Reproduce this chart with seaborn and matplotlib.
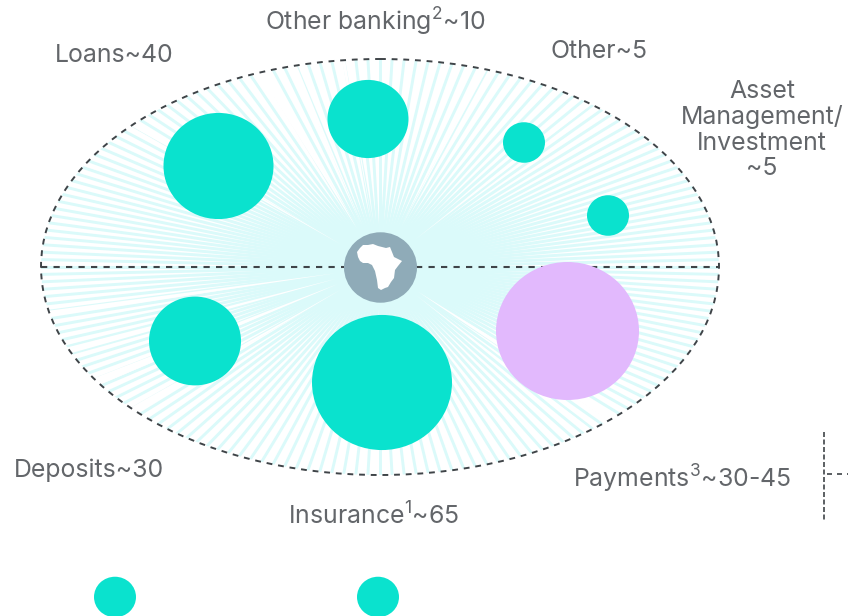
import numpy as np
import pandas as pd
import matplotlib
matplotlib.use("Agg")
import matplotlib.pyplot as plt
import seaborn as sns
from matplotlib.collections import LineCollection
from matplotlib.patches import Ellipse
from matplotlib.path import Path
from matplotlib.transforms import Affine2D

# bubbles (pixel positions, widths in px)
names = ["Loans", "Other banking", "Other", "Asset mgmt", "Payments", "Insurance", "Deposits", "Key A", "Key B"]
bubble_x = [218.5, 368, 524, 608, 567.5, 382, 195, 115, 378]
bubble_y = [166, 119, 142.5, 215.5, 331, 382.5, 341, 597, 597]
bubble_d = [110, 81, 42, 42, 143, 140, 92, 42, 42]
bubble_group = ["teal", "teal", "teal", "teal", "purple", "teal", "teal", "teal", "teal"]

labels = ["Other banking$^{2}$~10", "Loans~40", "Other~5", "Asset\nManagement/\nInvestment\n~5",
          "Deposits~30", "Payments$^{3}$~30-45", "Insurance$^{1}$~65"]
label_x = [375.5, 114.5, 599, 762, 89, 682.5, 373.5]
label_y = [22, 55.5, 52, 130, 470, 479, 516]

# rough outline of Africa inside the globe
africa_x = [357, 360, 363, 368, 373, 378, 382, 386, 390, 392, 394, 398, 402, 398, 395, 394, 391, 388, 385, 381, 378, 377, 375, 372, 368, 363, 360, 358]
africa_y = [252, 248, 245, 245, 244, 246, 247, 248, 247, 252, 257, 259, 261, 266, 270, 278, 282, 287, 288, 290, 288, 280, 271, 265, 263, 263, 261, 257]

TEAL = "#0AE2CE"
PURPLE = "#E2B9FD"
RAY = "#DBFAFA"
DASH = "#3F4448"
GREY = "#63666A"

sns.set_theme(style="white")
plt.rcParams["font.family"] = ["Inter", "DejaVu Sans"]
plt.rcParams["mathtext.fontset"] = "custom"
plt.rcParams["mathtext.rm"] = "Inter"
plt.rcParams["mathtext.default"] = "rm"

fig, ax = plt.subplots(figsize=(8.48, 6.16), dpi=100)
ax.set_position([0, 0, 1, 1])
ax.set_xlim(0, 848)
ax.set_ylim(616, 0)
ax.axis("off")

# rays from the centre, clipped to the oval
cx, cy, rx, ry = 380, 267, 339, 208
oval_clip = Ellipse((cx, cy), 2 * rx, 2 * ry, transform=ax.transData, fc="none", ec="none")
ax.add_patch(oval_clip)
angles = np.linspace(0, 2 * np.pi, 176, endpoint=False)
rays = [[(cx, cy), (cx + 1.05 * rx * np.cos(a), cy + 1.05 * ry * np.sin(a))] for a in angles]
ray_lines = LineCollection(rays, colors=RAY, linewidths=2.1, zorder=1)
ax.add_collection(ray_lines)
ray_lines.set_clip_path(oval_clip)

# the few wider white gaps (direction in degrees, half width in degrees)
gap_dirs = [33, 38, -121, -113, -100, -62, 150, 158, 165, 172, -150, -38]
gap_half = [1.0, 0.5, 1.2, 0.6, 0.5, 0.5, 0.6, 0.8, 0.6, 0.5, 0.5, 0.5]
for g, h in zip(gap_dirs, gap_half):
    a0, a1 = np.radians(g - h), np.radians(g + h)
    gx = [cx + 45 * np.cos(np.radians(g)), cx + 400 * np.cos(a0), cx + 400 * np.cos(a1)]
    gy = [cy + 45 * np.sin(np.radians(g)), cy + 400 * np.sin(a0), cy + 400 * np.sin(a1)]
    ax.fill(gx, gy, color="white", lw=0, zorder=2)

# dashed oval and the lines
oval_ls = (0, (3, 3))
ax.add_patch(Ellipse((cx, cy), 2 * rx, 2 * ry, fc="none", ec=DASH, lw=1.4, ls=oval_ls, zorder=3))
ax.plot([41, 344], [267, 267], color=DASH, lw=1.5, ls=oval_ls, zorder=3)
ax.plot([416, 718], [267, 267], color=DASH, lw=1.5, ls=oval_ls, zorder=3)
ax.plot([824, 824], [432, 520], color=DASH, lw=1.2, ls=(0, (3, 1.5)), zorder=3)
ax.plot([827, 848], [474, 474], color=DASH, lw=1.2, ls=oval_ls, zorder=3)

# the circles in the source are a little squashed
squashed = Path.unit_circle().transformed(Affine2D().scale(1, 0.965))

df = pd.DataFrame({"name": names, "x": bubble_x, "y": bubble_y, "d": bubble_d, "group": bubble_group})
size_map = {d: (d * 0.72) ** 2 for d in df["d"].unique()}
sns.scatterplot(data=df, x="x", y="y", hue="group", size="d", sizes=size_map,
                palette={"teal": TEAL, "purple": PURPLE}, linewidth=0, alpha=1,
                marker=squashed, legend=False, ax=ax, zorder=4)

# globe
ax.scatter([380], [266.5], s=(73 * 0.72) ** 2, color="#8FABB8", linewidth=0, marker=squashed, zorder=5)
ax.fill(africa_x, africa_y, color="white", lw=0, zorder=6)

for t, x, y in zip(labels, label_x, label_y):
    ax.text(x, y, t, ha="center", va="center", color=GREY, fontsize=17.9, linespacing=1.12, zorder=7)

ax.set_xlim(0, 848)
ax.set_ylim(616, 0)
ax.set_xlabel("")
ax.set_ylabel("")
fig.savefig("out.png", dpi=100)
